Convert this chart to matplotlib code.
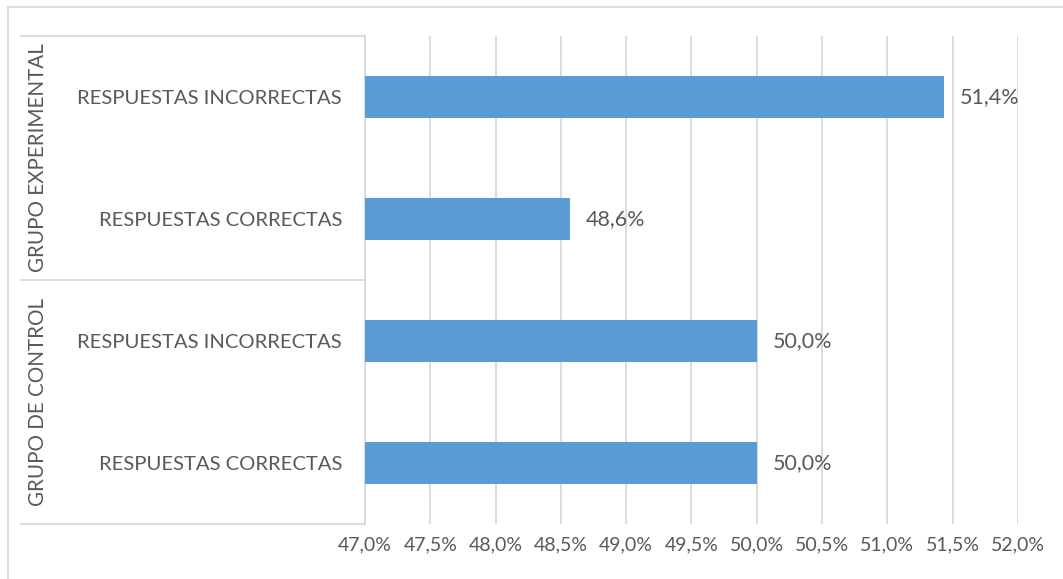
import matplotlib.pyplot as plt
from matplotlib.lines import Line2D
from matplotlib.ticker import FuncFormatter, MultipleLocator

# Data (top to bottom as shown)
groups = ["GRUPO EXPERIMENTAL", "GRUPO DE CONTROL"]
categories = [
    "RESPUESTAS INCORRECTAS",
    "RESPUESTAS CORRECTAS",
    "RESPUESTAS INCORRECTAS",
    "RESPUESTAS CORRECTAS",
]
values = [51.43, 48.57, 50.0, 50.0]

TEXT = "#595959"
GRID = "#D9D9D9"
BAR = "#5B9BD5"
W, H = 1063, 579

plt.rcParams["font.family"] = ["Lato", "DejaVu Sans"]

fig = plt.figure(figsize=(W / 100, H / 100), dpi=100)
ax = fig.add_axes([365 / W, 1 - 524 / H, (1018 - 365) / W, (524 - 36) / H])

y = list(range(len(values)))
ax.barh(y, [v - 47.0 for v in values], left=47.0, height=0.345, color=BAR, zorder=3)

for yi, v in zip(y, values):
    ax.annotate(f"{v:.1f}%".replace(".", ","), (v, yi), xytext=(11.5, 0),
                textcoords="offset points", va="center", ha="left",
                fontsize=15.5, color=TEXT)

ax.set_xlim(47.0, 52.0)
ax.set_ylim(len(values) - 0.5, -0.5)
ax.xaxis.set_major_locator(MultipleLocator(0.5))
ax.xaxis.set_major_formatter(FuncFormatter(lambda x, _: f"{x:.1f}%".replace(".", ",")))
ax.set_yticks(y)
ax.set_yticklabels(categories)
ax.tick_params(axis="y", length=0, pad=16.5, labelsize=14.6, colors=TEXT)
ax.tick_params(axis="x", length=0, pad=9, labelsize=14, colors=TEXT)
ax.grid(axis="x", color=GRID, linewidth=1.3, zorder=0)

for side in ["top", "right", "bottom"]:
    ax.spines[side].set_visible(False)
ax.spines["left"].set_color(GRID)
ax.spines["left"].set_linewidth(1.3)

# group box lines and labels
tr = ax.get_yaxis_transform()
x0 = (21 - 365) / (1018 - 365)
for yl in [-0.5, 1.5, 3.5]:
    ax.add_line(Line2D([x0, 0], [yl, yl], transform=tr, color=GRID,
                       linewidth=1.3, clip_on=False))
xg = (38 - 365) / (1018 - 365)
for gi, g in enumerate(groups):
    ax.text(xg, 2 * gi + 0.5, g, transform=tr, rotation=90, ha="center",
            va="center", fontsize=14.9, color=TEXT)

# outer chart border (left and top visible)
fig.add_artist(Line2D([8 / W, 8 / W], [0, 1 - 7 / H], color=GRID, linewidth=1.3))
fig.add_artist(Line2D([8 / W, 1], [1 - 7 / H, 1 - 7 / H], color=GRID, linewidth=1.3))

fig.savefig("out.png", dpi=100)
